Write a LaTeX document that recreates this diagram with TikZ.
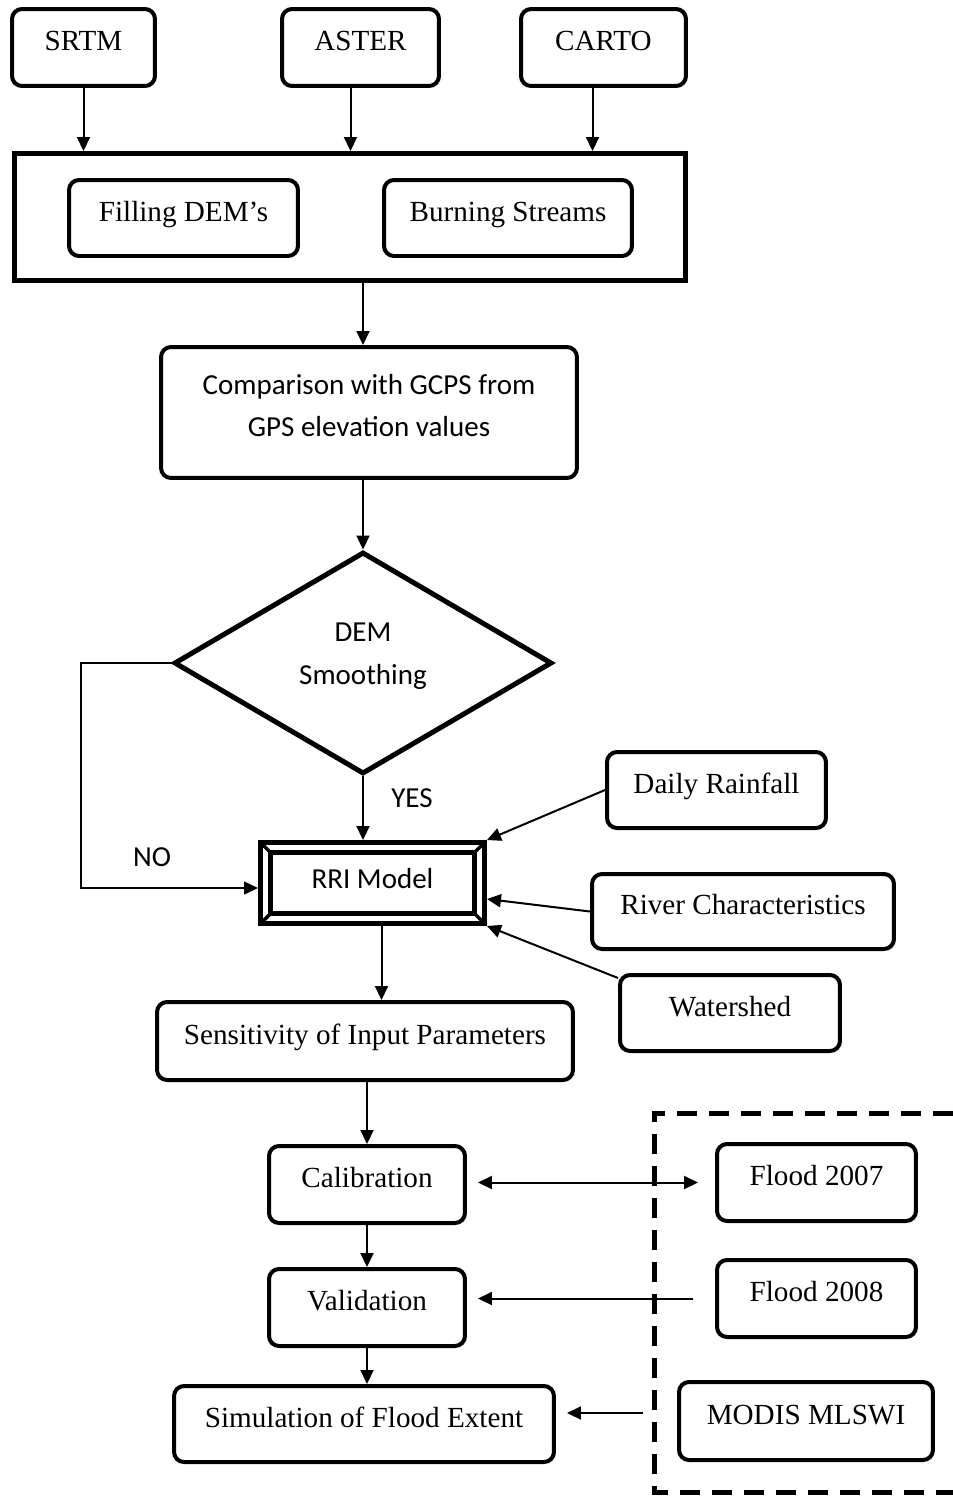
\documentclass[tikz,border=0pt]{standalone}
\usepackage{fontspec}
\setmainfont{Liberation Serif}
\newfontfamily\calibrifont{Carlito}
\usetikzlibrary{shapes.geometric,arrows.meta}

\tikzset{
  box/.style={draw, line width=0.08cm, rounded corners=0.2cm, minimum height=1.54cm,
    text height=11.5pt, text depth=8pt, font=\fontsize{16.6}{24}\selectfont},
  lbl/.style={font=\calibrifont\fontsize{16.5}{24}\selectfont},
  cbox/.style={box, lbl, align=center},
  arr/.style={line width=0.04cm, ->},
}

\begin{document}
\begin{tikzpicture}[x=0.02cm, y=-0.02cm, >={Triangle[length=0.28cm,width=0.26cm]}]
    \useasboundingbox (0,0) rectangle (953,1502);

        \node [box, minimum width=2.86cm] (srtm) at (83.5,47.5) {SRTM};
        \node [box, minimum width=3.14cm] (aster) at (360.5,47.5) {ASTER};
        \node [box, minimum width=3.30cm] (carto) at (603.5,47.5) {CARTO};

        \node [draw, line width=0.1cm, minimum width=13.42cm, minimum height=2.54cm] (prep) at (350,217) {};
        \node [box, minimum width=4.58cm, minimum height=1.52cm] (fill) at (183.5,218) {Filling DEM's};
        \node [box, minimum width=4.96cm, minimum height=1.52cm] (burn) at (508,218) {Burning Streams};

        \node [cbox, minimum width=8.32cm, minimum height=2.62cm, text height=35pt, text depth=8pt] (comp) at (369,412.5) {Comparison with GCPS from\\GPS elevation values};

        \node [diamond, draw, line width=0.1cm, aspect=1.69, minimum width=7.56cm, minimum height=4.44cm,
               inner sep=0pt, lbl, align=center, text height=32pt, text depth=8pt] (smooth) at (363,663) {DEM\\Smoothing};

        \node [minimum width=4.58cm, minimum height=1.72cm, outer sep=0pt,
               lbl, text height=11.5pt, text depth=5pt] (rri) at (372.5,883) {RRI Model};
        \draw [double, double distance=0.1cm, line width=0.1cm]
            ([shift={(7.5,7.5)}]rri.north west) rectangle ([shift={(-7.5,-7.5)}]rri.south east);
        \foreach \c/\dx/\dy in {north west/1/1, north east/-1/1, south west/1/-1, south east/-1/-1}
            \draw [line width=0.07cm] ([shift={(1*\dx,1*\dy)}]rri.\c) -- ([shift={(14*\dx,14*\dy)}]rri.\c);

        \node [box, minimum width=4.38cm, minimum height=1.52cm] (rain) at (716.5,790) {Daily Rainfall};
        \node [box, minimum width=6.04cm, minimum height=1.50cm] (river) at (743,911.5) {River Characteristics};
        \node [box, minimum width=4.40cm, minimum height=1.52cm] (shed) at (730,1013) {Watershed};

        \node [box, minimum width=8.32cm, minimum height=1.56cm] (sens) at (365,1041) {Sensitivity of Input Parameters};
        \node [box, minimum width=3.92cm] (calib) at (367,1184.5) {Calibration};
        \node [box, minimum width=3.92cm] (valid) at (367,1307.5) {Validation};
        \node [box, minimum width=7.60cm, minimum height=1.52cm] (sim) at (364,1424) {Simulation of Flood Extent};

        \node [box, minimum width=3.98cm] (f2007) at (816.5,1182.5) {Flood 2007};
        \node [box, minimum width=3.98cm] (f2008) at (816.5,1298.5) {Flood 2008};
        \node [box, minimum width=5.08cm, minimum height=1.56cm] (modis) at (806,1421) {MODIS MLSWI};

        \node [lbl] (yes) at (412,798) {YES};
        \node [lbl] (no) at (152,857) {NO};
        \coordinate (bend) at (81,663);

    \draw [line width=0.1cm, dash pattern=on 0.4cm off 0.24cm]
        (953,1113) -- (654,1113) -- (654,1492) -- (953,1492);

    \draw [arr] (srtm.south) -- (srtm.south |- prep.north);
    \draw [arr] ([shift={(-10,0)}]aster.south) -- ([shift={(-10,0)}]aster.south |- prep.north);
    \draw [arr] ([shift={(-11,0)}]carto.south) -- ([shift={(-11,0)}]carto.south |- prep.north);
    \draw [arr] (smooth.north |- prep.south) -- (smooth.north |- comp.north);
    \draw [arr] (smooth.north |- comp.south) -- (smooth.north);
    \draw [arr] (smooth.south) -- (smooth.south |- rri.north);
    \draw [arr, line width=0.028cm] (smooth.west) -- (bend) |- ([shift={(0,5)}]rri.west);
    \draw [arr] (rain.west) -- (rri.north east);
    \draw [arr] (river.west) -- ([shift={(0,16)}]rri.east);
    \draw [arr] ([shift={(0,5)}]shed.north west) -- (rri.south east);
    \draw [arr] ([shift={(9,0)}]rri.south) -- ([shift={(9,0)}]rri.south |- sens.north);
    \draw [arr] (calib.north |- sens.south) -- (calib.north);
    \draw [arr] (calib) -- (valid);
    \draw [arr] (valid.south) -- (valid.south |- sim.north);
    \draw [arr, <->] ([shift={(11,0)}]calib.east |- f2007.west) -- ([shift={(-17,0)}]f2007.west);
    \draw [arr] ([shift={(-22,0)}]f2008.west) -- ([shift={(11,0)}]valid.east |- f2008.west);
    \draw [arr] ([shift={(-34,-8)}]modis.west) -- ([shift={(11,-8)}]sim.east |- modis.west);
\end{tikzpicture}
\end{document}
